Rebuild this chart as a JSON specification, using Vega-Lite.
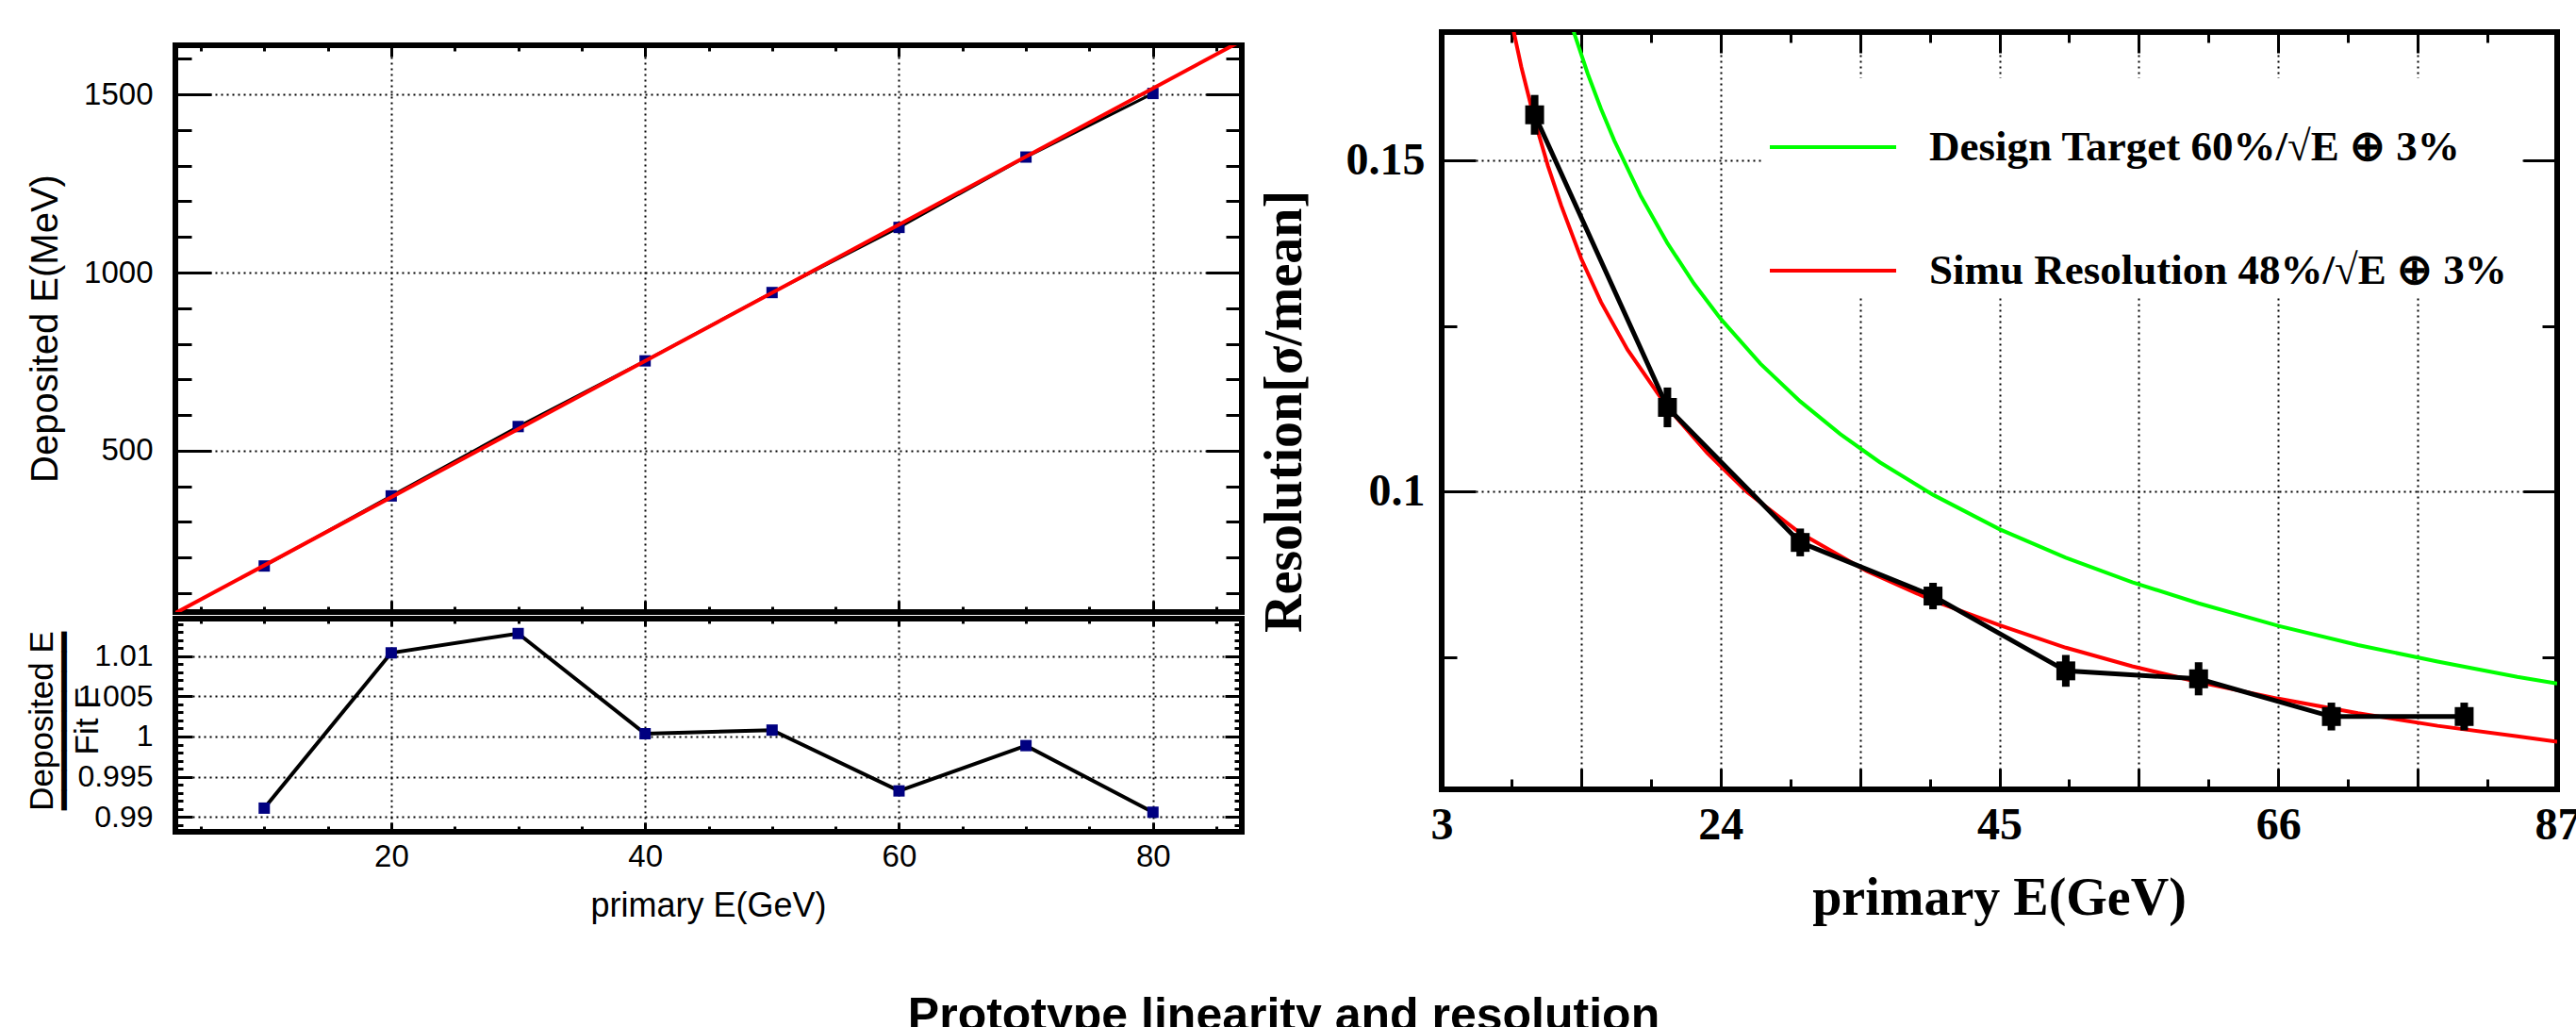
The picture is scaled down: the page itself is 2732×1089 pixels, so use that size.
{
  "$schema": "https://vega.github.io/schema/vega-lite/v6.json",
  "background": "white",
  "padding": {"left": 24, "top": 29, "right": 0, "bottom": 0},
  "title": {"text": "Prototype linearity and resolution", "orient": "bottom", "anchor": "middle", "font": "Liberation Sans", "fontSize": 50, "fontWeight": "bold", "color": "black", "offset": 70, "dx": -20},
  "config": {
    "font": "Liberation Sans",
    "view": {"stroke": "black", "strokeWidth": 6},
    "axis": {"domain": false, "tickColor": "black", "tickWidth": 3, "labelColor": "black", "titleColor": "black", "gridColor": "black", "gridDash": [2, 4], "gridWidth": 2, "gridOpacity": 1, "labelFlush": false, "labelOverlap": false, "labelBound": false}
  },
  "datasets": {
    "lin": [
      {"E": 10, "dep": 176.3, "ratio": 0.9911},
      {"E": 20, "dep": 373.0, "ratio": 1.0104},
      {"E": 30, "dep": 567.7, "ratio": 1.0128},
      {"E": 40, "dep": 752.1, "ratio": 1.00035},
      {"E": 50, "dep": 943.9, "ratio": 1.0008},
      {"E": 60, "dep": 1126.7, "ratio": 0.99324},
      {"E": 70, "dep": 1324.2, "ratio": 0.99887},
      {"E": 80, "dep": 1502.7, "ratio": 0.99059}
    ],
    "fit": [
      {"E": 3, "dep": 44},
      {"E": 87, "dep": 1651}
    ],
    "res": [
      {"E": 10, "res": 0.1569, "err": 0.003},
      {"E": 20, "res": 0.1127, "err": 0.003},
      {"E": 30, "res": 0.0923, "err": 0.0021},
      {"E": 40, "res": 0.0842, "err": 0.002},
      {"E": 50, "res": 0.0729, "err": 0.0024},
      {"E": 60, "res": 0.0717, "err": 0.0025},
      {"E": 70, "res": 0.066, "err": 0.0021},
      {"E": 80, "res": 0.066, "err": 0.0021}
    ],
    "curves": [
      {"curve": "Design Target", "E": 12.8, "res": 0.1704},
      {"curve": "Design Target", "E": 13, "res": 0.1691},
      {"curve": "Design Target", "E": 14, "res": 0.1631},
      {"curve": "Design Target", "E": 15, "res": 0.1578},
      {"curve": "Design Target", "E": 16, "res": 0.153},
      {"curve": "Design Target", "E": 18, "res": 0.1446},
      {"curve": "Design Target", "E": 20, "res": 0.1375},
      {"curve": "Design Target", "E": 22, "res": 0.1314},
      {"curve": "Design Target", "E": 24, "res": 0.1261},
      {"curve": "Design Target", "E": 27, "res": 0.1193},
      {"curve": "Design Target", "E": 30, "res": 0.1136},
      {"curve": "Design Target", "E": 33, "res": 0.1087},
      {"curve": "Design Target", "E": 36, "res": 0.1044},
      {"curve": "Design Target", "E": 40, "res": 0.0995},
      {"curve": "Design Target", "E": 45, "res": 0.0943},
      {"curve": "Design Target", "E": 50, "res": 0.09},
      {"curve": "Design Target", "E": 55, "res": 0.0863},
      {"curve": "Design Target", "E": 60, "res": 0.0831},
      {"curve": "Design Target", "E": 66, "res": 0.0797},
      {"curve": "Design Target", "E": 72, "res": 0.0768},
      {"curve": "Design Target", "E": 78, "res": 0.0743},
      {"curve": "Design Target", "E": 84, "res": 0.072},
      {"curve": "Design Target", "E": 87, "res": 0.071},
      {"curve": "Simu Resolution", "E": 8, "res": 0.1737},
      {"curve": "Simu Resolution", "E": 8.4, "res": 0.1697},
      {"curve": "Simu Resolution", "E": 9, "res": 0.1641},
      {"curve": "Simu Resolution", "E": 10, "res": 0.1561},
      {"curve": "Simu Resolution", "E": 11, "res": 0.1492},
      {"curve": "Simu Resolution", "E": 12, "res": 0.1432},
      {"curve": "Simu Resolution", "E": 13.5, "res": 0.1352},
      {"curve": "Simu Resolution", "E": 15, "res": 0.1286},
      {"curve": "Simu Resolution", "E": 17, "res": 0.1214},
      {"curve": "Simu Resolution", "E": 20, "res": 0.1127},
      {"curve": "Simu Resolution", "E": 23, "res": 0.1058},
      {"curve": "Simu Resolution", "E": 26, "res": 0.0999},
      {"curve": "Simu Resolution", "E": 30, "res": 0.0937},
      {"curve": "Simu Resolution", "E": 35, "res": 0.088},
      {"curve": "Simu Resolution", "E": 40, "res": 0.0835},
      {"curve": "Simu Resolution", "E": 45, "res": 0.0798},
      {"curve": "Simu Resolution", "E": 50, "res": 0.0764},
      {"curve": "Simu Resolution", "E": 55, "res": 0.0736},
      {"curve": "Simu Resolution", "E": 60, "res": 0.0712},
      {"curve": "Simu Resolution", "E": 66, "res": 0.0687},
      {"curve": "Simu Resolution", "E": 72, "res": 0.0665},
      {"curve": "Simu Resolution", "E": 78, "res": 0.0646},
      {"curve": "Simu Resolution", "E": 84, "res": 0.063},
      {"curve": "Simu Resolution", "E": 87, "res": 0.0622}
    ]
  },
  "bounds": "flush",
  "spacing": 1343,
  "hconcat": [
    {
      "bounds": "flush",
      "spacing": 7,
      "vconcat": [
        {"width": 1131, "height": 6.5, "data": {"values": []}, "mark": "point", "view": {"stroke": null}},
        {
          "width": 1131,
          "height": 601,
          "resolve": {"axis": {"x": "independent", "y": "independent"}},
          "layer": [
            {
              "data": {"name": "lin"},
              "mark": {"type": "line", "color": "black", "strokeWidth": 3},
              "encoding": {
                "x": {"field": "E", "type": "quantitative", "scale": {"domain": [3, 87], "nice": false, "zero": false},
                  "axis": {"orient": "bottom", "values": [20, 40, 60, 80], "labels": false, "grid": true, "tickSize": -12, "title": null}},
                "y": {"field": "dep", "type": "quantitative", "scale": {"domain": [47, 1638], "nice": false, "zero": false},
                  "axis": {"orient": "left", "values": [500, 1000, 1500], "format": "d", "grid": true, "tickSize": -38, "labelPadding": 62, "labelFont": "Liberation Sans", "labelFontSize": 33, "title": "Deposited E(MeV)", "titleFont": "Liberation Sans", "titleFontSize": 40, "titleFontWeight": "normal", "titleX": -138, "titleY": 300, "titleBaseline": "middle", "titleAlign": "center", "titleAngle": -90}}
              }
            },
            {
              "data": {"name": "lin"},
              "mark": {"type": "square", "filled": true, "color": "#000080", "size": 144, "opacity": 1},
              "encoding": {
                "x": {"field": "E", "type": "quantitative", "scale": {"domain": [3, 87], "nice": false, "zero": false},
                  "axis": {"orient": "bottom", "values": [5, 10, 15, 25, 30, 35, 45, 50, 55, 65, 70, 75, 85], "labels": false, "grid": false, "tickSize": -6, "title": null}},
                "y": {"field": "dep", "type": "quantitative", "scale": {"domain": [47, 1638], "nice": false, "zero": false},
                  "axis": {"orient": "left", "values": [100, 200, 300, 400, 600, 700, 800, 900, 1100, 1200, 1300, 1400, 1600], "labels": false, "grid": false, "tickSize": -17, "title": null}}
              }
            },
            {
              "data": {"name": "fit"},
              "mark": {"type": "line", "color": "#ff0000", "strokeWidth": 4, "clip": true},
              "encoding": {
                "x": {"field": "E", "type": "quantitative", "scale": {"domain": [3, 87], "nice": false, "zero": false},
                  "axis": {"orient": "top", "values": [20, 40, 60, 80], "labels": false, "grid": false, "tickSize": -12, "title": null}},
                "y": {"field": "dep", "type": "quantitative", "scale": {"domain": [47, 1638], "nice": false, "zero": false},
                  "axis": {"orient": "right", "values": [500, 1000, 1500], "labels": false, "grid": false, "tickSize": -38, "title": null}}
              }
            },
            {
              "data": {"name": "lin"},
              "mark": {"type": "point", "opacity": 0},
              "encoding": {
                "x": {"field": "E", "type": "quantitative", "scale": {"domain": [3, 87], "nice": false, "zero": false},
                  "axis": {"orient": "top", "values": [5, 10, 15, 25, 30, 35, 45, 50, 55, 65, 70, 75, 85], "labels": false, "grid": false, "tickSize": -6, "title": null}},
                "y": {"field": "dep", "type": "quantitative", "scale": {"domain": [47, 1638], "nice": false, "zero": false},
                  "axis": {"orient": "right", "values": [100, 200, 300, 400, 600, 700, 800, 900, 1100, 1200, 1300, 1400, 1600], "labels": false, "grid": false, "tickSize": -17, "title": null}}
              }
            }
          ]
        },
        {
          "width": 1131,
          "height": 226,
          "resolve": {"axis": {"x": "independent", "y": "independent"}},
          "layer": [
            {
              "data": {"name": "lin"},
              "mark": {"type": "line", "color": "black", "strokeWidth": 4},
              "encoding": {
                "x": {"field": "E", "type": "quantitative", "scale": {"domain": [3, 87], "nice": false, "zero": false},
                  "axis": {"orient": "bottom", "values": [20, 40, 60, 80], "labels": true, "grid": true, "tickSize": -10, "labelPadding": 20, "labelFont": "Liberation Sans", "labelFontSize": 33, "title": "primary E(GeV)", "titleFont": "Liberation Sans", "titleFontSize": 36, "titleFontWeight": "normal", "titleX": 565, "titleY": 78, "titleBaseline": "middle", "titleAlign": "center"}},
                "y": {"field": "ratio", "type": "quantitative", "scale": {"domain": [0.98816, 1.01465], "nice": false, "zero": false},
                  "axis": {"orient": "left", "values": [0.99, 0.995, 1, 1.005, 1.01], "format": "~g", "grid": true, "tickSize": -18, "labelPadding": 42, "labelFont": "Liberation Sans", "labelFontSize": 32, "title": ["Deposited E", "━━━━━━━━━", "Fit E"], "titleFont": "Liberation Sans", "titleFontSize": 35, "titleFontWeight": "normal", "titleLineHeight": 24, "titleX": -142, "titleY": 108, "titleBaseline": "middle", "titleAlign": "center", "titleAngle": -90}}
              }
            },
            {
              "data": {"name": "lin"},
              "mark": {"type": "square", "filled": true, "color": "#000080", "size": 144, "opacity": 1},
              "encoding": {
                "x": {"field": "E", "type": "quantitative", "scale": {"domain": [3, 87], "nice": false, "zero": false},
                  "axis": {"orient": "bottom", "values": [5, 10, 15, 25, 30, 35, 45, 50, 55, 65, 70, 75, 85], "labels": false, "grid": false, "tickSize": -6, "title": null}},
                "y": {"field": "ratio", "type": "quantitative", "scale": {"domain": [0.98816, 1.01465], "nice": false, "zero": false},
                  "axis": {"orient": "left", "values": [0.989, 0.991, 0.992, 0.993, 0.994, 0.996, 0.997, 0.998, 0.999, 1.001, 1.002, 1.003, 1.004, 1.006, 1.007, 1.008, 1.009, 1.011, 1.012, 1.013, 1.014], "labels": false, "grid": false, "tickSize": -8, "title": null}}
              }
            },
            {
              "data": {"name": "lin"},
              "mark": {"type": "point", "opacity": 0},
              "encoding": {
                "x": {"field": "E", "type": "quantitative", "scale": {"domain": [3, 87], "nice": false, "zero": false},
                  "axis": {"orient": "top", "values": [20, 40, 60, 80], "labels": false, "grid": false, "tickSize": -8, "title": null}},
                "y": {"field": "ratio", "type": "quantitative", "scale": {"domain": [0.98816, 1.01465], "nice": false, "zero": false},
                  "axis": {"orient": "right", "values": [0.99, 0.995, 1, 1.005, 1.01], "labels": false, "grid": false, "tickSize": -18, "title": null}}
              }
            },
            {
              "data": {"name": "lin"},
              "mark": {"type": "point", "opacity": 0},
              "encoding": {
                "x": {"field": "E", "type": "quantitative", "scale": {"domain": [3, 87], "nice": false, "zero": false},
                  "axis": {"orient": "top", "values": [5, 10, 15, 25, 30, 35, 45, 50, 55, 65, 70, 75, 85], "labels": false, "grid": false, "tickSize": -5, "title": null}},
                "y": {"field": "ratio", "type": "quantitative", "scale": {"domain": [0.98816, 1.01465], "nice": false, "zero": false},
                  "axis": {"orient": "right", "values": [0.989, 0.991, 0.992, 0.993, 0.994, 0.996, 0.997, 0.998, 0.999, 1.001, 1.002, 1.003, 1.004, 1.006, 1.007, 1.008, 1.009, 1.011, 1.012, 1.013, 1.014], "labels": false, "grid": false, "tickSize": -8, "title": null}}
              }
            }
          ]
        }
      ]
    },
    {
      "width": 1183,
      "height": 803,
      "resolve": {"axis": {"x": "independent", "y": "independent"}},
      "layer": [
        {
          "data": {"name": "curves"},
          "mark": {"type": "line", "strokeWidth": 4, "clip": true},
          "encoding": {
            "x": {"field": "E", "type": "quantitative", "scale": {"domain": [3, 87], "nice": false, "zero": false},
              "axis": {"orient": "bottom", "values": [3, 13.5, 24, 34.5, 45, 55.5, 66, 76.5, 87], "labelExpr": "datum.value % 21 == 3 ? datum.label : ''", "labels": true, "grid": true, "tickSize": -22, "labelPadding": 36, "labelFont": "Liberation Serif", "labelFontWeight": "bold", "labelFontSize": 48, "title": "primary E(GeV)", "titleFont": "Liberation Serif", "titleFontSize": 56, "titleFontWeight": "bold", "titleX": 591, "titleY": 115, "titleBaseline": "middle", "titleAlign": "center"}},
            "y": {"field": "res", "type": "quantitative", "scale": {"domain": [0.055, 0.1694], "nice": false, "zero": false},
              "axis": {"orient": "left", "values": [0.1, 0.15], "format": "~g", "grid": true, "tickSize": -36, "labelPadding": 54, "labelFont": "Liberation Serif", "labelFontWeight": "bold", "labelFontSize": 48, "title": "Resolution[σ/mean]", "titleFont": "Liberation Serif", "titleFontSize": 56, "titleFontWeight": "bold", "titleX": -167, "titleY": 402, "titleBaseline": "middle", "titleAlign": "center", "titleAngle": -90}},
            "color": {"field": "curve", "type": "nominal", "scale": {"domain": ["Design Target", "Simu Resolution"], "range": ["#00ff00", "#ff0000"]},
              "legend": {"orient": "none", "legendX": 1685, "legendY": 49, "title": null, "symbolType": "stroke", "symbolSize": 17956, "symbolStrokeWidth": 4, "labelFont": "Liberation Serif", "labelFontWeight": "bold", "labelFontSize": 45, "labelColor": "black", "labelLimit": 0, "labelOffset": 33, "fillColor": "white", "padding": 4, "rowPadding": 39,
                "labelExpr": "datum.label == 'Design Target' ? 'Design Target  60%/√E ⊕ 3%' : 'Simu Resolution  48%/√E ⊕ 3%'"}}
          }
        },
        {
          "data": {"name": "res"},
          "mark": {"type": "line", "color": "black", "strokeWidth": 5},
          "encoding": {
            "x": {"field": "E", "type": "quantitative", "scale": {"domain": [3, 87], "nice": false, "zero": false},
              "axis": {"orient": "bottom", "values": [8.25, 18.75, 29.25, 39.75, 50.25, 60.75, 71.25, 81.75], "labels": false, "grid": false, "tickSize": -11, "title": null}},
            "y": {"field": "res", "type": "quantitative", "scale": {"domain": [0.055, 0.1694], "nice": false, "zero": false},
              "axis": {"orient": "left", "values": [0.075, 0.125], "labels": false, "grid": false, "tickSize": -16, "title": null}}
          }
        },
        {
          "data": {"name": "res"},
          "mark": {"type": "errorbar", "ticks": false, "thickness": 8, "color": "black"},
          "encoding": {
            "x": {"field": "E", "type": "quantitative", "scale": {"domain": [3, 87], "nice": false, "zero": false}, "axis": null},
            "y": {"field": "res", "type": "quantitative", "scale": {"domain": [0.055, 0.1694], "nice": false, "zero": false}, "axis": null},
            "yError": {"field": "err"}
          }
        },
        {
          "data": {"name": "res"},
          "mark": {"type": "square", "filled": true, "color": "black", "size": 400, "opacity": 1},
          "encoding": {
            "x": {"field": "E", "type": "quantitative", "scale": {"domain": [3, 87], "nice": false, "zero": false},
              "axis": {"orient": "top", "values": [3, 13.5, 24, 34.5, 45, 55.5, 66, 76.5, 87], "labels": false, "grid": false, "tickSize": -22, "title": null}},
            "y": {"field": "res", "type": "quantitative", "scale": {"domain": [0.055, 0.1694], "nice": false, "zero": false},
              "axis": {"orient": "right", "values": [0.1, 0.15], "labels": false, "grid": false, "tickSize": -36, "title": null}}
          }
        },
        {
          "data": {"name": "res"},
          "mark": {"type": "point", "opacity": 0},
          "encoding": {
            "x": {"field": "E", "type": "quantitative", "scale": {"domain": [3, 87], "nice": false, "zero": false},
              "axis": {"orient": "top", "values": [8.25, 18.75, 29.25, 39.75, 50.25, 60.75, 71.25, 81.75], "labels": false, "grid": false, "tickSize": -11, "title": null}},
            "y": {"field": "res", "type": "quantitative", "scale": {"domain": [0.055, 0.1694], "nice": false, "zero": false},
              "axis": {"orient": "right", "values": [0.075, 0.125], "labels": false, "grid": false, "tickSize": -16, "title": null}}
          }
        }
      ]
    }
  ]
}
